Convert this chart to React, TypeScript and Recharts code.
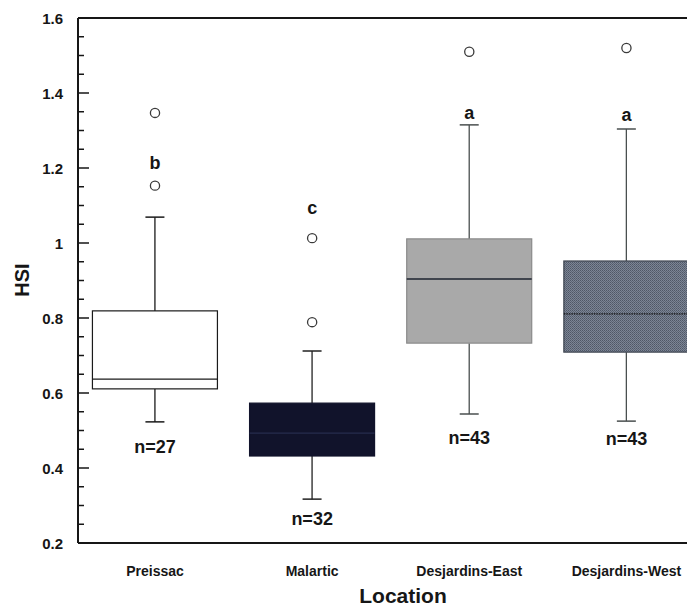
import { ComposedChart, Bar, Scatter, XAxis, YAxis, Label } from "recharts";

const categories = ["Preissac", "Malartic", "Desjardins-East", "Desjardins-West"];
const whiskerLow = [0.523, 0.317, 0.544, 0.525];
const quartile1 = [0.611, 0.432, 0.733, 0.709];
const medians = [0.637, 0.493, 0.904, 0.811];
const quartile3 = [0.819, 0.573, 1.011, 0.952];
const whiskerHigh = [1.069, 0.712, 1.315, 1.304];

const outlierLocation = [1, 1, 2, 2, 3, 4];
const outlierValues = [1.347, 1.153, 0.789, 1.013, 1.51, 1.52];

const groupLetters = ["b", "c", "a", "a"];
const letterHeights = [1.214, 1.093, 1.347, 1.341];
const sampleSizes = [27, 32, 43, 43];
const sampleLabelHeights = [0.456, 0.263, 0.481, 0.478];

const yTicks = [
  0.2, 0.25, 0.3, 0.35, 0.4, 0.45, 0.5, 0.55, 0.6, 0.65, 0.7, 0.75, 0.8, 0.85, 0.9, 0.95,
  1, 1.05, 1.1, 1.15, 1.2, 1.25, 1.3, 1.35, 1.4, 1.45, 1.5, 1.55, 1.6,
];
const yTickLabels: Record<string, string> = {
  "0.2": "0.2", "0.4": "0.4", "0.6": "0.6", "0.8": "0.8", "1": "1", "1.2": "1.2", "1.4": "1.4", "1.6": "1.6",
};
const rightTicks = [0.4, 0.6, 0.8, 1, 1.2, 1.4];

const FONT = "'Liberation Sans', Arial, Helvetica, sans-serif";
const INK = "#161616";

// look of each box, same order as categories
const BOX_STYLES = [
  { fill: "#ffffff", stroke: "#1a1a1a", median: "#1a1a1a", dash: undefined, whisker: "#1a1a1a" },
  { fill: "#11132b", stroke: "#11132b", median: "#262c4e", dash: undefined, whisker: "#222222" },
  { fill: "#a9a9a9", stroke: "#8a8a8a", median: "#1e2530", dash: undefined, whisker: "#4a4f4f" },
  { fill: "url(#westDots)", stroke: "#3e4550", median: "#111111", dash: "1.5 1", whisker: "#4a4f4f" },
];

const table = categories.map((name, i) => ({
  name,
  pos: i + 1,
  range: [whiskerLow[i], whiskerHigh[i]],
  q1: quartile1[i],
  med: medians[i],
  q3: quartile3[i],
}));

const outliers = outlierValues.map((v, i) => ({ pos: outlierLocation[i], v }));
const letters = groupLetters.map((t, i) => ({ pos: i + 1, y: letterHeights[i], text: t }));
const nLabels = sampleSizes.map((n, i) => ({ pos: i + 1, y: sampleLabelHeights[i], text: `n=${n}` }));

const BoxShape = (props: any) => {
  const { x, y, width, height, payload, index } = props;
  const [lo, hi] = payload.range;
  const st = BOX_STYLES[index] ?? BOX_STYLES[0];
  const py = (v: number) => y + (height * (hi - v)) / (hi - lo);
  const cx = x + width / 2;
  const cap = 9.5;
  return (
    <g>
      <line x1={cx} x2={cx} y1={py(hi)} y2={py(payload.q3)} stroke={st.whisker} strokeWidth={1.3} />
      <line x1={cx} x2={cx} y1={py(payload.q1)} y2={py(lo)} stroke={st.whisker} strokeWidth={1.3} />
      <line x1={cx - cap} x2={cx + cap} y1={py(hi)} y2={py(hi)} stroke={st.whisker} strokeWidth={1.5} />
      <line x1={cx - cap} x2={cx + cap} y1={py(lo)} y2={py(lo)} stroke={st.whisker} strokeWidth={1.5} />
      <rect
        x={x}
        y={py(payload.q3)}
        width={width}
        height={py(payload.q1) - py(payload.q3)}
        fill={st.fill}
        stroke={st.stroke}
        strokeWidth={1.2}
      />
      <line
        x1={x}
        x2={x + width}
        y1={py(payload.med)}
        y2={py(payload.med)}
        stroke={st.median}
        strokeWidth={1.3}
        strokeDasharray={st.dash}
      />
    </g>
  );
};

const LeftTick = (props: any) => {
  const { x, y, payload } = props;
  const label = yTickLabels[String(payload.value)];
  const len = label ? 11 : 6;
  return (
    <g>
      <line x1={x} x2={x + len} y1={y} y2={y} stroke={INK} strokeWidth={1.5} />
      {label && (
        <text x={x - 15} y={y} textAnchor="end" dominantBaseline="central" fontFamily={FONT} fontWeight="bold" fontSize={15} fill={INK}>
          {label}
        </text>
      )}
    </g>
  );
};

const RightTick = (props: any) => {
  const { x, y } = props;
  return <line x1={x - 4} x2={x} y1={y} y2={y} stroke={INK} strokeWidth={1.5} />;
};

const BottomTick = (props: any) => {
  const { x, y, payload } = props;
  return (
    <text x={x} y={y + 33} textAnchor="middle" fontFamily={FONT} fontWeight="bold" fontSize={14} fill={INK}>
      {categories[payload.value - 1]}
    </text>
  );
};

const TextMark = (size: number) => (props: any) => (
  <text
    x={props.cx}
    y={props.cy}
    textAnchor="middle"
    dominantBaseline="central"
    fontFamily={FONT}
    fontWeight="bold"
    fontSize={size}
    fill={INK}
  >
    {props.payload.text}
  </text>
);

const App = () => {
  return (
    <ComposedChart width={687} height={600} data={table} margin={{ top: 9, right: 0, bottom: 0, left: 10 }}>
      <defs>
        <pattern id="westDots" width="2" height="2" patternUnits="userSpaceOnUse">
          <rect width="2" height="2" fill="#7c8595" />
          <rect width="1" height="1" fill="#4f5766" />
          <rect x="1" y="1" width="1" height="1" fill="#5c6473" />
        </pattern>
      </defs>
      <XAxis
        dataKey="pos"
        type="number"
        domain={[0.51, 4.43]}
        ticks={[1, 2, 3, 4]}
        interval={0}
        allowDataOverflow
        height={65}
        tickLine={false}
        tickSize={0}
        tickMargin={0}
        tick={<BottomTick />}
        axisLine={{ stroke: INK, strokeWidth: 2 }}
      >
        <Label
          content={() => (
            <text x={395} y={595} textAnchor="middle" fontFamily={FONT} fontWeight="bold" fontSize={21} fill={INK}>
              Location
            </text>
          )}
        />
      </XAxis>
      <XAxis
        xAxisId="top"
        orientation="top"
        type="number"
        domain={[0.51, 4.43]}
        allowDataOverflow
        height={1}
        tick={false}
        tickLine={false}
        axisLine={{ stroke: INK, strokeWidth: 2 }}
      />
      <YAxis
        type="number"
        domain={[0.2, 1.6]}
        ticks={yTicks}
        interval={0}
        allowDataOverflow
        width={60}
        tickLine={false}
        tickSize={0}
        tickMargin={0}
        tick={<LeftTick />}
        axisLine={{ stroke: INK, strokeWidth: 2 }}
      >
        <Label
          content={() => (
            <text
              x={13.5}
              y={272}
              transform="rotate(-90 13.5 272)"
              textAnchor="middle"
              dominantBaseline="central"
              fontFamily={FONT}
              fontWeight="bold"
              fontSize={20}
              fill={INK}
            >
              HSI
            </text>
          )}
        />
      </YAxis>
      <YAxis
        yAxisId="right"
        orientation="right"
        type="number"
        domain={[0.2, 1.6]}
        ticks={rightTicks}
        interval={0}
        allowDataOverflow
        width={1}
        tickLine={false}
        tickSize={0}
        tickMargin={0}
        tick={<RightTick />}
        axisLine={false}
      />
      <Bar dataKey="range" barSize={125} shape={<BoxShape />} isAnimationActive={false} />
      <Scatter
        data={outliers}
        dataKey="v"
        isAnimationActive={false}
        shape={(p: any) => <circle cx={p.cx} cy={p.cy} r={4.6} fill="#ffffff" stroke="#3a3a3a" strokeWidth={1.3} />}
      />
      <Scatter data={letters} dataKey="y" isAnimationActive={false} shape={TextMark(18)} />
      <Scatter data={nLabels} dataKey="y" isAnimationActive={false} shape={TextMark(18)} />
    </ComposedChart>
  );
};

export default App;
